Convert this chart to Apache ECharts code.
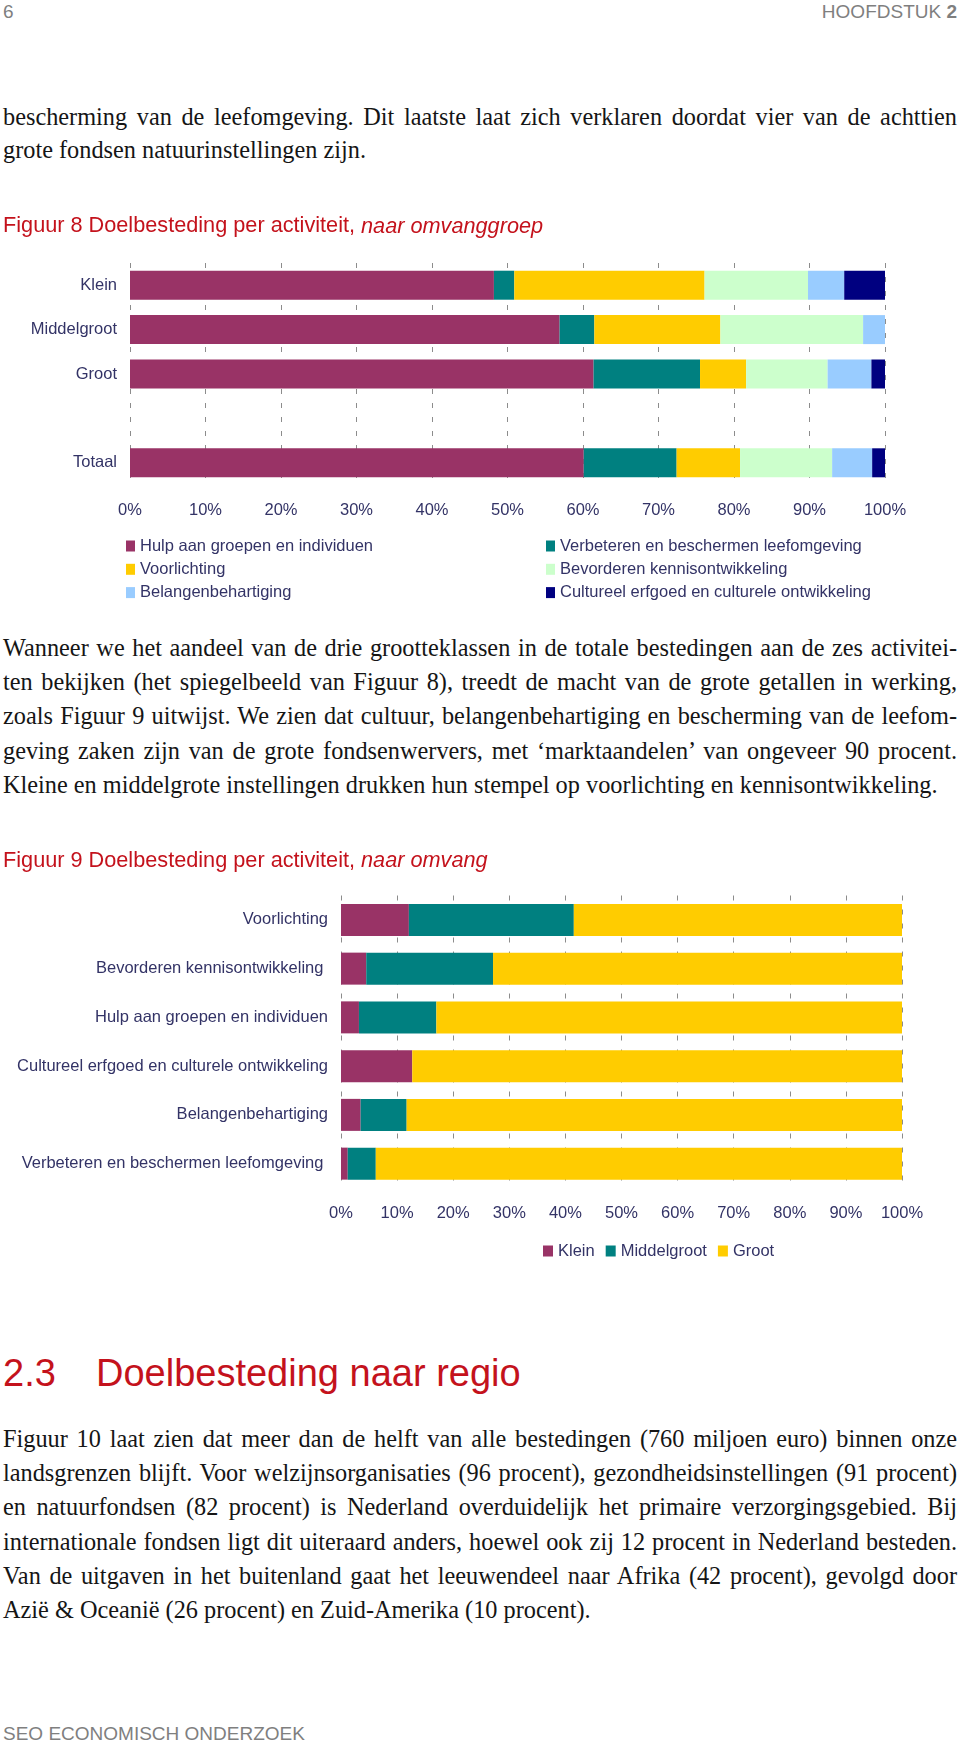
<!DOCTYPE html>
<html><head><meta charset="utf-8">
<script src="https://cdn.jsdelivr.net/npm/echarts@6/dist/echarts.min.js"></script>
<style>
html,body{margin:0;padding:0;background:#fff;}
body{width:960px;height:1745px;position:relative;overflow:hidden;}
.t{position:absolute;white-space:nowrap;}
.gray{font-family:'Liberation Sans',Arial,sans-serif;color:#7f7f7f;font-size:19px;line-height:22px;}
.para{position:absolute;left:3px;width:954px;font-family:'Liberation Serif','Times New Roman',serif;font-size:24.3px;line-height:34.2px;color:#151515;}
.para div{white-space:nowrap;}
.h2{font-family:'Liberation Sans',Arial,sans-serif;color:#C4121C;font-size:38px;line-height:44px;}
#c1{position:absolute;left:0;top:200px;width:960px;height:420px;}
#c2{position:absolute;left:0;top:830px;width:960px;height:440px;}
</style></head><body>
<div class="t gray" style="left:3px;top:1px;">6</div>
<div class="t gray" style="right:3px;top:1px;">HOOFDSTUK <b>2</b></div>

<div class="para" style="top:100px;line-height:33px;">
<div class="j"><span>bescherming van de leefomgeving. Dit laatste laat zich verklaren doordat vier van de achttien</span></div>
<div><span>grote fondsen natuurinstellingen zijn.</span></div>
</div>

<div id="c1"></div>

<div class="para" style="top:631px;">
<div class="j"><span>Wanneer we het aandeel van de drie grootteklassen in de totale bestedingen aan de zes activitei-</span></div>
<div class="j"><span>ten bekijken (het spiegelbeeld van Figuur 8), treedt de macht van de grote getallen in werking,</span></div>
<div class="j"><span>zoals Figuur 9 uitwijst. We zien dat cultuur, belangenbehartiging en bescherming van de leefom-</span></div>
<div class="j"><span>geving zaken zijn van de grote fondsenwervers, met ‘marktaandelen’ van ongeveer 90 procent.</span></div>
<div><span>Kleine en middelgrote instellingen drukken hun stempel op voorlichting en kennisontwikkeling.</span></div>
</div>

<div id="c2"></div>

<div class="t h2" style="left:3px;top:1351px;">2.3</div>
<div class="t h2" style="left:96px;top:1351px;">Doelbesteding naar regio</div>

<div class="para" style="top:1422px;">
<div class="j"><span>Figuur 10 laat zien dat meer dan de helft van alle bestedingen (760 miljoen euro) binnen onze</span></div>
<div class="j"><span>landsgrenzen blijft. Voor welzijnsorganisaties (96 procent), gezondheidsinstellingen (91 procent)</span></div>
<div class="j"><span>en natuurfondsen (82 procent) is Nederland overduidelijk het primaire verzorgingsgebied. Bij</span></div>
<div class="j"><span>internationale fondsen ligt dit uiteraard anders, hoewel ook zij 12 procent in Nederland besteden.</span></div>
<div class="j"><span>Van de uitgaven in het buitenland gaat het leeuwendeel naar Afrika (42 procent), gevolgd door</span></div>
<div><span>Azië &amp; Oceanië (26 procent) en Zuid-Amerika (10 procent).</span></div>
</div>

<div class="t gray" style="left:3px;top:1723px;">SEO ECONOMISCH ONDERZOEK</div>

<script>
// ---------- Figuur 8 data ----------
var groups8 = ['Klein', 'Middelgroot', 'Groot', '', 'Totaal'];
var hulp         = [48.2, 56.9, 61.4, null, 60.1];
var verbeteren   = [2.7, 4.6, 14.1, null, 12.3];
var voorlichting = [25.2, 16.7, 6.1, null, 8.4];
var bevorderen   = [13.7, 18.9, 10.8, null, 12.2];
var belangen     = [4.8, 2.9, 5.8, null, 5.3];
var cultureel    = [5.4, 0, 1.8, null, 1.7];

// ---------- Figuur 9 data ----------
var activities9 = ['Voorlichting', 'Bevorderen kennisontwikkeling ', 'Hulp aan groepen en individuen',
  'Cultureel erfgoed en culturele ontwikkeling', 'Belangenbehartiging', 'Verbeteren en beschermen leefomgeving '];
var klein9  = [12.1, 4.5, 3.2, 12.7, 3.5, 1.2];
var middel9 = [29.4, 22.6, 13.8, 0, 8.2, 5.0];
var groot9  = [58.5, 72.9, 83.0, 87.3, 88.3, 93.8];

var pctTicks = [0, 10, 20, 30, 40, 50, 60, 70, 80, 90, 100];

// justify paragraph lines
document.querySelectorAll('.para .j').forEach(function (d) {
  var s = d.firstElementChild;
  var w = s.getBoundingClientRect().width;
  var n = (s.textContent.match(/ /g) || []).length;
  if (n > 0) s.style.wordSpacing = ((954 - w) / n) + 'px';
});

var FF = "'Liberation Sans', Arial, sans-serif";
var RED = '#C4121C';
var NAVY = '#333366';
var FS = 16.5;
var TFS = 21.7;

function xAxisCfg() {
  return {
    type: 'value', min: pctTicks[0], max: pctTicks[pctTicks.length - 1], interval: 10,
    axisLine: { show: false }, axisTick: { show: false },
    splitLine: { show: true, lineStyle: { color: '#8c8c8c', width: 1, type: [5, 9] } },
    axisLabel: { formatter: '{value}%', color: NAVY, fontSize: FS, fontFamily: FF, margin: 16.5 }
  };
}
function yAxisCfg(cats) {
  return {
    type: 'category', inverse: true, data: cats,
    axisLine: { show: false }, axisTick: { show: false }, splitLine: { show: false },
    axisLabel: { color: NAVY, fontSize: FS, fontFamily: FF, margin: 13 }
  };
}
function bar(name, data, color, w) {
  return { name: name, type: 'bar', stack: 's', data: data, barWidth: w,
    itemStyle: { color: color, borderWidth: 0 }, emphasis: { disabled: true }, silent: true };
}
function titleCfg(a, b, top) {
  return {
    text: '{a|' + a + '}{b|' + b + '}', left: 3, top: top, padding: 0,
    textStyle: { fontWeight: 'normal', fontSize: TFS, color: RED, fontFamily: FF, rich: {
      a: { fontSize: TFS, color: RED, fontFamily: FF, fontWeight: 'normal', lineHeight: 24 },
      b: { fontSize: TFS, color: RED, fontFamily: FF, fontWeight: 'normal', fontStyle: 'italic', lineHeight: 24 }
    } }
  };
}
var legText = { color: NAVY, fontSize: FS, fontFamily: FF, lineHeight: 18 };

var c1 = echarts.init(document.getElementById('c1'));
c1.setOption({
  animation: false,
  title: titleCfg('Figuur 8 Doelbesteding per activiteit, ', 'naar omvanggroep', 14.5),
  grid: { left: 130, right: 75, top: 63, height: 222, outerBoundsMode: 'none' },
  xAxis: xAxisCfg(),
  yAxis: yAxisCfg(groups8),
  legend: [
    { orient: 'vertical', left: 126, top: 337, padding: 0, itemGap: 5.3, itemWidth: 9, itemHeight: 11, icon: 'rect',
      selectedMode: false, textStyle: legText,
      data: ['Hulp aan groepen en individuen', 'Voorlichting', 'Belangenbehartiging'] },
    { orient: 'vertical', left: 546, top: 337, padding: 0, itemGap: 5.3, itemWidth: 9, itemHeight: 11, icon: 'rect',
      selectedMode: false, textStyle: legText,
      data: ['Verbeteren en beschermen leefomgeving', 'Bevorderen kennisontwikkeling', 'Cultureel erfgoed en culturele ontwikkeling'] }
  ],
  series: [
    bar('Hulp aan groepen en individuen', hulp, '#993366', 29),
    bar('Verbeteren en beschermen leefomgeving', verbeteren, '#008080', 29),
    bar('Voorlichting', voorlichting, '#FFCC00', 29),
    bar('Bevorderen kennisontwikkeling', bevorderen, '#CCFFCC', 29),
    bar('Belangenbehartiging', belangen, '#99CCFF', 29),
    bar('Cultureel erfgoed en culturele ontwikkeling', cultureel, '#000080', 29)
  ]
});

var c2 = echarts.init(document.getElementById('c2'));
c2.setOption({
  animation: false,
  title: titleCfg('Figuur 9 Doelbesteding per activiteit, ', 'naar omvang', 19),
  grid: { left: 341, right: 58, top: 65.5, height: 292.5, outerBoundsMode: 'none' },
  xAxis: xAxisCfg(),
  yAxis: yAxisCfg(activities9),
  legend: { orient: 'horizontal', left: 543, top: 412, padding: 0, itemGap: 11, itemWidth: 10, itemHeight: 11, icon: 'rect',
    selectedMode: false, textStyle: legText, data: ['Klein', 'Middelgroot', 'Groot'] },
  series: [
    bar('Klein', klein9, '#993366', 32),
    bar('Middelgroot', middel9, '#008080', 32),
    bar('Groot', groot9, '#FFCC00', 32)
  ]
});
</script>
</body></html>
